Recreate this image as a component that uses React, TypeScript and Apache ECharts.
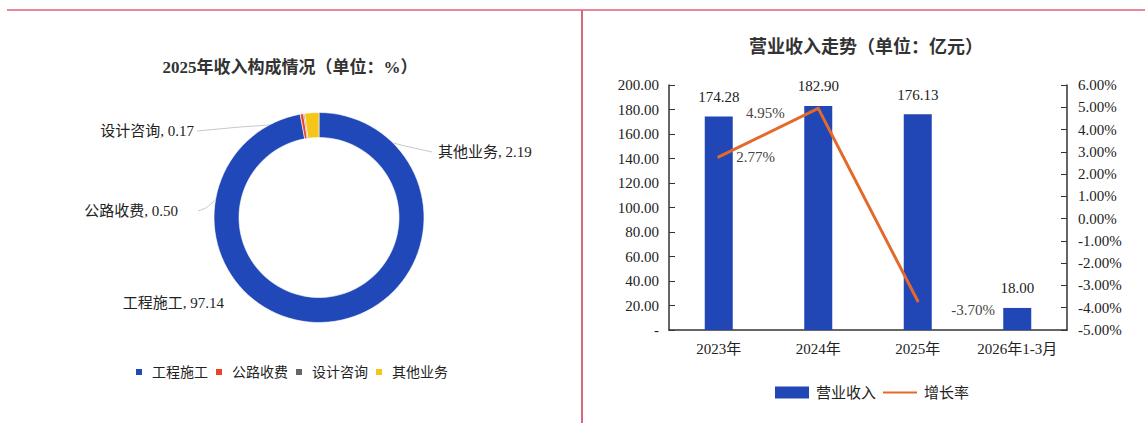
import React, { useEffect, useRef } from "react";
import * as echarts from "echarts";

// ---- data ----
const pieNames = ["工程施工", "公路收费", "设计咨询", "其他业务"];
const pieValues = [97.14, 0.5, 0.17, 2.19];
const years = ["2023年", "2024年", "2025年", "2026年1-3月"];
const revenue = [174.28, 182.9, 176.13, 18.0];
const growth: (number | string)[] = [2.77, 4.95, -3.7, "-"];

const leftTitle = "2025年收入构成情况（单位：%）";
const rightTitle = "营业收入走势（单位：亿元）";
const barName = "营业收入";
const lineName = "增长率";

// ---- styles ----
const FONT = "'Liberation Serif', 'Noto Sans CJK SC', serif";
const pieColors = ["#2148b8", "#e8452c", "#666666", "#f5c518"];
const BAR_COLOR = "#2146b6";
const LINE_COLOR = "#e36a2c";

const pieLabelLayout = [
  { x: 224, y: 303, align: "right", line: [[236, 300], [230, 303], [228, 303]] },
  { x: 178, y: 211, align: "right", line: [[300, 128], [206, 208], [198, 211]] },
  { x: 194, y: 131, align: "right", line: [[300, 123], [240, 127], [197, 131]] },
  { x: 438, y: 152, align: "left", line: [[320, 124], [405, 146], [432, 152]] },
];

const growthLabelPos = [
  { position: "right", distance: 16, offset: [0, 0] },
  { position: "left", distance: 32, offset: [0, 5] },
  { position: "right", distance: 32, offset: [0, 9] },
  { position: "right", distance: 5, offset: [0, 0] },
];

export default function App() {
  const ref = useRef<HTMLDivElement>(null);
  useEffect(() => {
    document.body.style.margin = "0";
    const chart = echarts.init(ref.current!, null, { renderer: "svg" });
    const option: any = {
      animation: false,
      backgroundColor: "#ffffff",
      textStyle: { fontFamily: FONT },
      graphic: [
        { type: "line", shape: { x1: 7, y1: 10, x2: 1145, y2: 10 }, style: { stroke: "#e8899a", lineWidth: 2 } },
        { type: "line", shape: { x1: 582, y1: 10, x2: 582, y2: 423 }, style: { stroke: "#d46a7a", lineWidth: 2 } },
        {
          type: "text",
          x: 290,
          y: 67,
          style: {
            text: leftTitle,
            align: "center",
            verticalAlign: "middle",
            textAlign: "center",
            textVerticalAlign: "middle",
            font: `bold 17px ${FONT}`,
            fill: "#333",
          },
        },
        {
          type: "text",
          x: 866,
          y: 47,
          style: {
            text: rightTitle,
            align: "center",
            verticalAlign: "middle",
            textAlign: "center",
            textVerticalAlign: "middle",
            font: `bold 18px ${FONT}`,
            fill: "#333",
          },
        },
      ],
      legend: [
        {
          data: pieNames,
          left: 129,
          top: 360,
          icon: "rect",
          itemWidth: 8,
          itemHeight: 8,
          itemGap: 6,
          textStyle: { fontSize: 14, color: "#222", fontFamily: FONT, padding: [0, 0, 0, 4] },
        },
        {
          data: [
            { name: barName, icon: "rect" },
            { name: lineName, itemStyle: { opacity: 0 } },
          ],
          left: 770,
          top: 380,
          itemWidth: 34,
          itemHeight: 12,
          itemGap: 6,
          textStyle: { fontSize: 15, color: "#222", fontFamily: FONT, padding: [0, 0, 0, 2] },
        },
      ],
      grid: { left: 669, right: 78, top: 85, bottom: 93 },
      xAxis: {
        type: "category",
        data: years,
        axisLine: { lineStyle: { color: "#333", width: 1.5 } },
        axisTick: { inside: true, length: 7, lineStyle: { color: "#333" } },
        axisLabel: { interval: 0, fontSize: 15, color: "#222", margin: 11, fontFamily: FONT },
      },
      yAxis: [
        {
          type: "value",
          position: "left",
          min: 0,
          max: 200,
          interval: 20,
          splitLine: { show: false },
          axisLine: { show: true, lineStyle: { color: "#333", width: 1.5 } },
          axisTick: { show: true, inside: true, length: 6, lineStyle: { color: "#333" } },
          axisLabel: {
            fontSize: 15,
            color: "#222",
            margin: 10,
            fontFamily: FONT,
            formatter: (v: number) => (v === 0 ? "-" : v.toFixed(2)),
          },
        },
        {
          type: "value",
          position: "right",
          min: -5,
          max: 6,
          interval: 1,
          splitLine: { show: false },
          axisLine: { show: true, lineStyle: { color: "#333", width: 1.5 } },
          axisTick: { show: true, inside: true, length: 6, lineStyle: { color: "#333" } },
          axisLabel: {
            fontSize: 15,
            color: "#222",
            margin: 11,
            fontFamily: FONT,
            formatter: (v: number) => v.toFixed(2) + "%",
          },
        },
      ],
      series: [
        {
          type: "pie",
          name: "收入构成",
          center: [319, 217.5],
          radius: [80, 105],
          startAngle: 90,
          clockwise: true,
          avoidLabelOverlap: false,
          itemStyle: { borderColor: "#fff", borderWidth: 0.6 },
          label: {
            show: true,
            position: "outside",
            fontSize: 15,
            color: "#222",
            fontFamily: FONT,
            formatter: (p: any) => `${p.name}, ${Number(p.value).toFixed(2)}`,
          },
          labelLine: { show: true, lineStyle: { color: "#c9c9c9", width: 1 } },
          labelLayout: (params: any) => {
            const L = pieLabelLayout[params.dataIndex];
            return { x: L.x, y: L.y, align: L.align, verticalAlign: "middle", labelLinePoints: L.line };
          },
          data: pieNames.map((n, i) => ({
            name: n,
            value: pieValues[i],
            itemStyle: { color: pieColors[i] },
            ...(i === 0 ? { labelLine: { show: false } } : {}),
          })),
        },
        {
          type: "bar",
          name: barName,
          data: revenue,
          barWidth: 28,
          itemStyle: { color: BAR_COLOR },
          label: {
            show: true,
            position: "top",
            distance: 12,
            fontSize: 15,
            color: "#222",
            fontFamily: FONT,
            formatter: (p: any) => Number(p.value).toFixed(2),
          },
        },
        {
          type: "line",
          name: lineName,
          yAxisIndex: 1,
          symbol: "circle",
          symbolSize: 3,
          itemStyle: { color: LINE_COLOR },
          lineStyle: { color: LINE_COLOR, width: 3 },
          data: growth.map((v, i) => ({
            value: v,
            label: {
              show: true,
              position: growthLabelPos[i].position,
              distance: growthLabelPos[i].distance,
              offset: growthLabelPos[i].offset,
              fontSize: 15,
              color: "#444",
              fontFamily: FONT,
              formatter: (p: any) => Number(p.value).toFixed(2) + "%",
            },
          })),
        },
      ],
    };
    chart.setOption(option);
    return () => chart.dispose();
  }, []);
  return <div ref={ref} style={{ width: 1145, height: 423 }} />;
}
